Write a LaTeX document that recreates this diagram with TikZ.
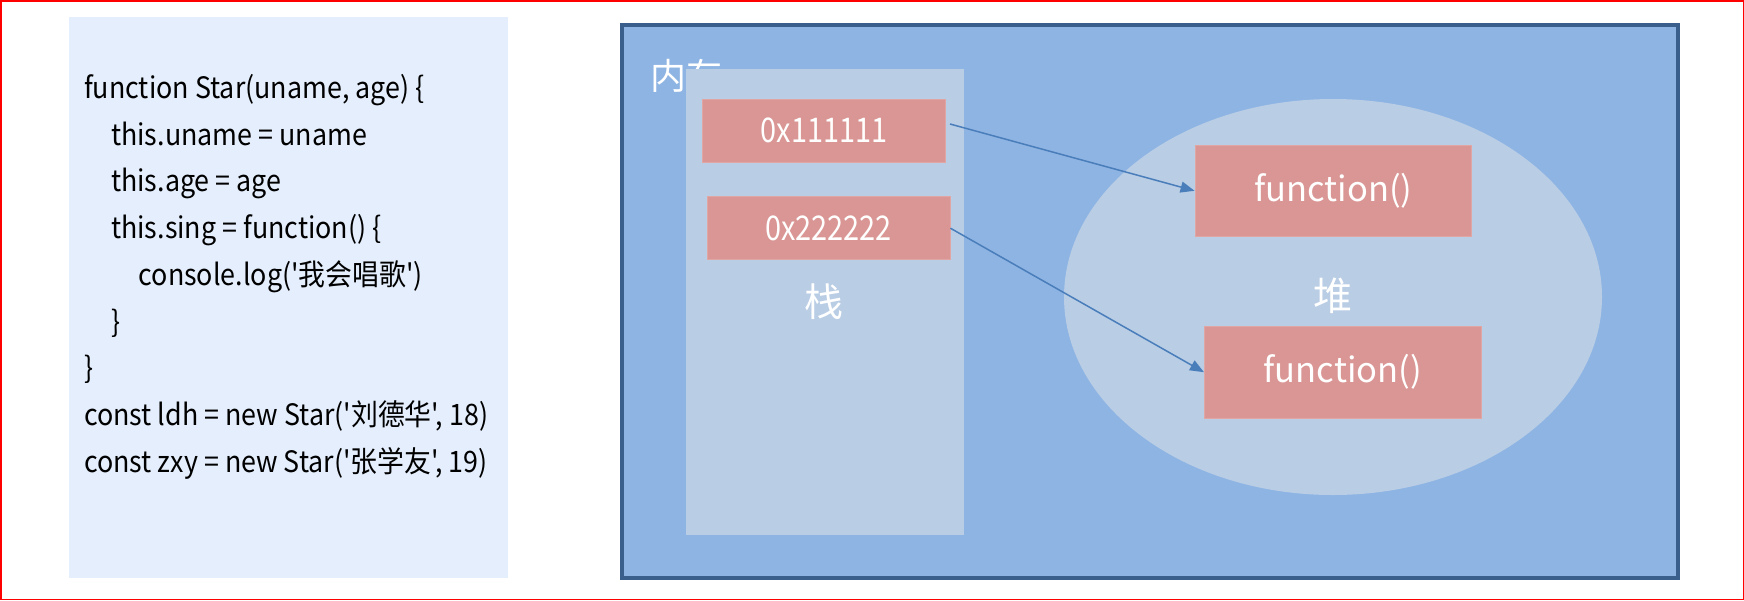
\documentclass[tikz,border=0pt]{standalone}
\usepackage{fontspec}
\setmainfont{Noto Sans CJK SC}[Ligatures=TeXOff]
\newfontfamily\codefont{Noto Sans CJK SC}[Ligatures=TeXOff,FakeStretch=0.91]
\newfontfamily\hexfont{Noto Sans CJK SC}[Ligatures=TeXOff,FakeStretch=0.85]
\usetikzlibrary{arrows.meta,shapes.geometric}
\definecolor{codebg}{HTML}{E4EEFC}
\definecolor{memfill}{HTML}{8EB4E3}
\definecolor{memdraw}{HTML}{3B5F8C}
\definecolor{areafill}{HTML}{B9CDE5}
\definecolor{boxfill}{HTML}{D99694}
\definecolor{arrowc}{HTML}{4A7EBB}
\begin{document}
\begin{tikzpicture}[x=1pt,y=-1pt,
  codeline/.style={anchor=base west,inner sep=0pt,font=\codefont\fontsize{29.5}{34}\selectfont,text=black},
  area/.style={fill=areafill,draw=none},
  membox/.style={fill=boxfill,draw=boxfill!85!white,line width=0.8pt,text=white,inner sep=0pt},
  hexbox/.style={membox,minimum width=243pt,minimum height=63pt,font=\hexfont\fontsize{34}{38}\selectfont},
  funbox/.style={membox,minimum width=276.7pt,minimum height=91.7pt,font=\fontsize{34.5}{38}\selectfont},
  biglabel/.style={text=white,inner sep=0pt,font=\fontsize{39}{42}\selectfont},
  ptr/.style={draw=arrowc,line width=1.5pt,-{Triangle[length=14pt,width=11pt]}}
]
\useasboundingbox (0,0) rectangle (1744,600);
\fill[white] (0,0) rectangle (1744,600);
\draw[red,line width=1.5pt] (0.75,0.75) rectangle (1743.25,599.25);

% code panel
\node[fill=codebg,draw=none,minimum width=439.5pt,minimum height=561.5pt,inner sep=0pt] (code) at (288.25,297.25) {};
\node[codeline] (l1) at (84,98.5) {function Star(uname, age) \{};
\node[codeline] (l2) at (111,145.2) {this.uname = uname};
\node[codeline] (l3) at (111,191.9) {this.age = age};
\node[codeline] (l4) at (111,238.6) {this.sing = function() \{};
\node[codeline] (l5) at (138.5,285.3) {console.log('我会唱歌')};
\node[codeline] (l6) at (111,332) {\}};
\node[codeline] (l7) at (84,378.7) {\}};
\node[codeline] (l8) at (84,425.4) {const ldh = new Star('刘德华', 18)};
\node[codeline] (l9) at (84,472.1) {const zxy = new Star('张学友', 19)};

% memory
\node[fill=memfill,draw=memdraw,line width=4pt,minimum width=1056pt,minimum height=553pt,inner sep=0pt] (mem) at (1150,301.5) {};
\node[text=white,inner sep=0pt,anchor=west,font=\fontsize{36}{40}\selectfont] (memlabel) at (650,76) {内存};

% stack
\node[area,minimum width=278pt,minimum height=466pt,inner sep=0pt] (stack) at (825,302) {};
\node[hexbox] (a1) at (824.1,130.8) {0x111111};
\node[hexbox] (a2) at (828.5,228.2) {0x222222};
\node[biglabel] (stacklabel) at (824,302) {栈};

% heap
\node[area,ellipse,minimum width=538pt,minimum height=396pt,inner sep=0pt] (heap) at (1333,297) {};
\node[funbox] (f1) at (1333.3,190.8) {function()};
\node[funbox] (f2) at (1342.7,372.2) {function()};
\node[biglabel] (heaplabel) at (1333,296) {堆};

% pointers
\coordinate (s1) at (950,124);
\draw[ptr] (s1) -- (f1.west);
\draw[ptr] (a2.east) -- (f2.west);
\end{tikzpicture}
\end{document}
